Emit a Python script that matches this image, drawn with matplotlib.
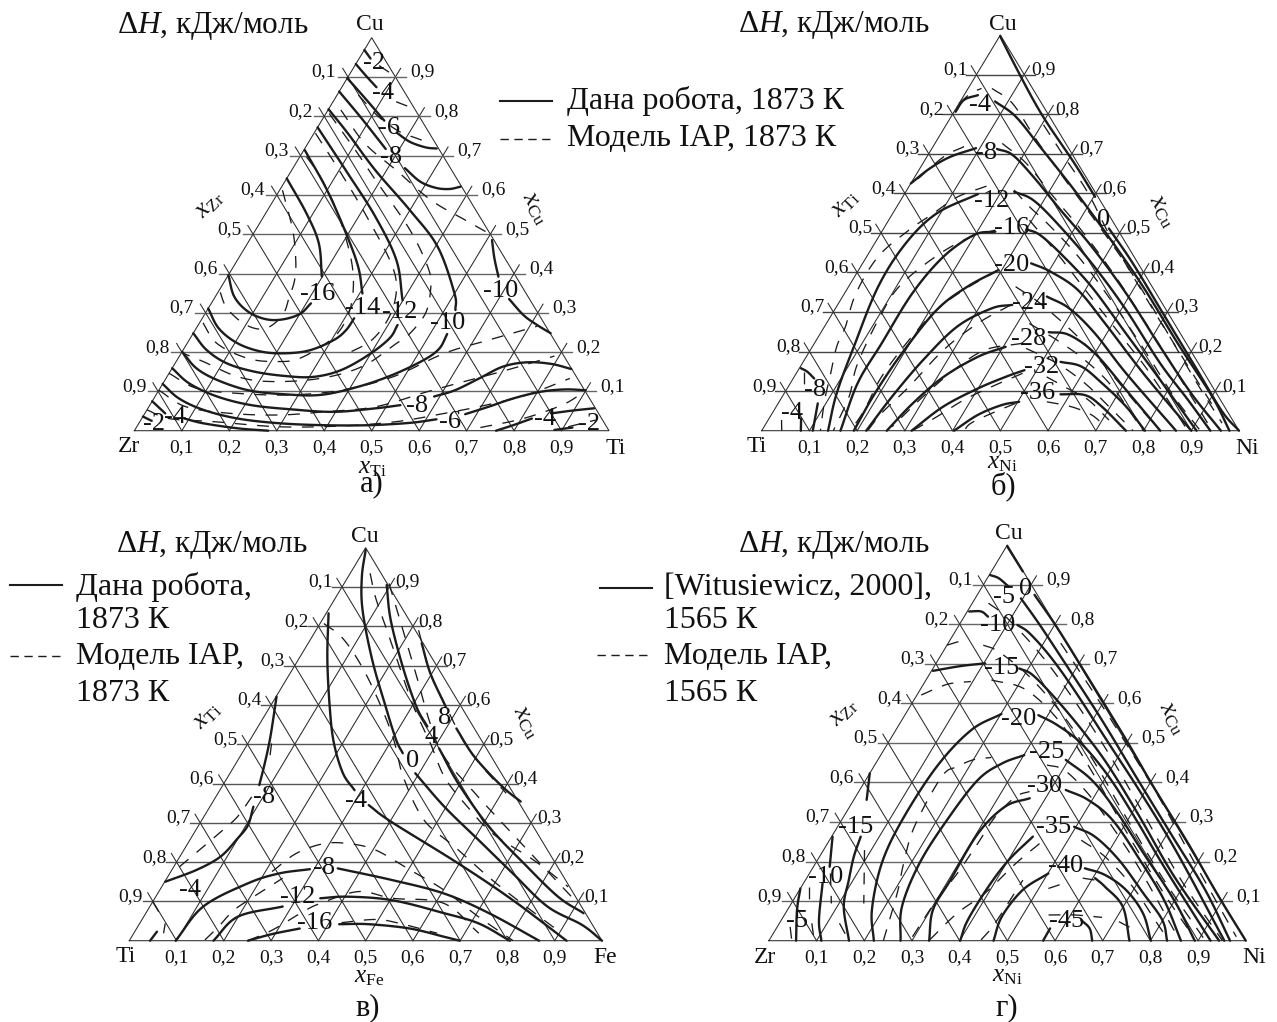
import numpy as np
import matplotlib
matplotlib.use("Agg")
import matplotlib.pyplot as plt

plt.rcParams['font.family'] = ['Liberation Serif', 'DejaVu Serif']
plt.rcParams['mathtext.fontset'] = 'custom'
plt.rcParams['mathtext.rm'] = 'Liberation Serif'
plt.rcParams['mathtext.it'] = 'Liberation Serif:italic'

W, H = 1277, 1022
TICKS_LEFT = ['0,1', '0,2', '0,3', '0,4', '0,5', '0,6', '0,7', '0,8', '0,9']
TICKS_RIGHT = ['0,9', '0,8', '0,7', '0,6', '0,5', '0,4', '0,3', '0,2', '0,1']
TICKS_BOTTOM = TICKS_LEFT

# every curve: (x of right-hand component, x_Cu)
a_solid = [
 [(0,.969),(.024,.947)],
 [(0,.933),(.039,.901),(.073,.874)],
 [(0,.897),(.063,.846),(.132,.789)],
 [(0,.863),(.081,.795),(.171,.717)],
 [(.174,.758),(.213,.735),(.253,.721),(.278,.718)],
 [(0,.818),(.071,.757),(.176,.663),(.300,.561),(.405,.468),(.500,.349),(.523,.307)],
 [(0,.772),(.122,.655),(.235,.545),(.335,.434),(.399,.332)],
 [(.002,.714),(.100,.612),(.195,.502),(.263,.417),(.306,.349)],
 [(0,.642),(.086,.553),(.150,.477),(.199,.392)],
 [(.236,.668),(.285,.634),(.326,.618),(.356,.615),(.377,.621)],
 [(.511,.485),(.539,.439),(.571,.392)],
 [(.622,.335),(.673,.294),(.714,.269),(.753,.248)],
 [(0,.396),(.040,.341),(.088,.303),(.134,.284),(.170,.283),(.200,.297),(.210,.324)],
 [(0,.311),(.048,.260),(.107,.222),(.168,.201),(.221,.197),(.268,.205),(.305,.231),(.318,.256),(.320,.286)],
 [(0,.248),(.050,.205),(.110,.171),(.179,.150),(.250,.139),(.309,.137),(.358,.154),(.397,.193),(.420,.235),(.420,.269)],
 [(0,.201),(.051,.159),(.110,.129),(.188,.103),(.265,.093),(.346,.091),(.416,.112),(.473,.142),(.520,.180),(.538,.209),(.536,.246)],
 [(0,.159),(.056,.120),(.131,.087),(.214,.065),(.307,.054),(.397,.048),(.480,.057),(.528,.065)],
 [(.588,.087),(.624,.103),(.660,.133),(.695,.163),(.740,.174),(.793,.170),(.842,.157)],
 [(0,.119),(.053,.082),(.119,.053),(.202,.031),(.295,.019),(.392,.014),(.486,.014),(.571,.020),(.622,.029)],
 [(.676,.042),(.716,.061),(.757,.082),(.806,.099),(.854,.105),(.899,.103)],
 [(0,.075),(.043,.044)],
 [(.090,.031),(.135,.019),(.215,.006),(.282,0)],
 [(.762,0),(.791,.014),(.822,.031)],
 [(.856,.044),(.896,.051),(.940,.057)],
 [(0,.036),(.024,.025)],
 [(.884,.002),(.919,.008)],
]
a_dashed = [
 [(.051,.929),(.086,.909)],
 [(.133,.837),(.178,.820)],
 [(.045,.854),(.115,.799),(.178,.761),(.223,.744),(.259,.731)],
 [(.027,.816),(.120,.731),(.220,.663),(.331,.587),(.429,.536),(.496,.502)],
 [(.007,.807),(.099,.723),(.189,.638),(.325,.511),(.416,.409),(.445,.358),(.464,.299),(.457,.248),(.441,.222),(.398,.163),(.325,.133),(.228,.125),(.150,.137),(.057,.176),(.004,.197)],
 [(.003,.757),(.108,.655),(.217,.545),(.328,.426),(.373,.358),(.392,.290),(.385,.231),(.352,.197)],
 [(.014,.697),(.069,.646),(.152,.553),(.240,.434),(.286,.349),(.305,.282),(.298,.231),(.256,.184),(.210,.176),(.147,.184),(.063,.222),(0,.282)],
 [(.006,.612),(.078,.511),(.123,.434),(.146,.383),(.156,.341),(.165,.294),(.146,.260),(.101,.269),(.040,.311),(0,.358)],
 [(0,.146),(.077,.108),(.170,.095),(.281,.091),(.384,.103),(.476,.137),(.555,.197),(.632,.231),(.716,.266)],
 [(0,.103),(.078,.061),(.181,.044),(.285,.040),(.375,.048),(.478,.061),(.567,.099),(.622,.121),(.707,.154),(.790,.190)],
 [(0,.053),(.057,.031),(.156,.023),(.300,.010),(.429,.012),(.540,.023),(.631,.044),(.708,.065),(.781,.091),(.851,.133)],
 [(.725,.008),(.804,.031),(.868,.065),(.896,.095)],
 [(.909,.010),(.958,.027)],
]
a_labels = [('-2',374,63),('-4',383,93),('-6',389,128),('-8',391,157),('-16',318,294),('-14',363,308),
            ('-12',400,312),('-10',448,323),('-10',501,291),('-8',417,406),('-6',450,422),('-4',545,419),
            ('-2',589,424),('-2',154,424),('-4',175,417)]

b_solid = [
 [(.001,.997),(.072,.920),(.151,.836),(.214,.773),(.317,.676),(.403,.591)],
 [(.472,.511),(.566,.423),(.697,.292),(.827,.162),(.941,.048),(1,0)],
 [(.073,.832),(.135,.794),(.224,.718),(.351,.608),(.482,.490),(.617,.364),(.761,.221),(.901,.086),(.980,0)],
 [(.137,.712),(.177,.697),(.248,.642),(.347,.558),(.459,.465),(.590,.347),(.729,.212),(.853,.094),(.962,0)],
 [(.227,.604),(.277,.583),(.357,.524),(.480,.423),(.611,.305),(.750,.170),(.854,.078),(.940,0)],
 [(.300,.509),(.335,.495),(.402,.448),(.509,.364),(.640,.246),(.771,.128),(.911,0)],
 [(.353,.423),(.404,.402),(.484,.356),(.584,.271),(.727,.145),(.900,0)],
 [(.428,.339),(.490,.309),(.575,.246),(.691,.145),(.868,0)],
 [(.477,.249),(.523,.242),(.601,.195),(.712,.103),(.835,0)],
 [(.539,.174),(.589,.162),(.653,.120),(.733,.061),(.803,0)],
 [(.580,.092),(.632,.090),(.682,.061),(.763,0)],
 [(.003,.806),(.006,.836),(.029,.848)],
 [(0,.625),(.021,.663),(.049,.692),(.092,.714)],
 [(.139,0),(.110,.094),(.087,.212),(.062,.364),(.065,.473),(.092,.549),(.154,.598)],
 [(.165,0),(.141,.120),(.141,.221),(.142,.347),(.161,.440),(.198,.495),(.238,.503)],
 [(.193,0),(.190,.094),(.196,.195),(.214,.305),(.249,.364),(.293,.406)],
 [(.219,0),(.230,.086),(.249,.179),(.278,.263),(.327,.309),(.366,.318)],
 [(.262,0),(.282,.069),(.313,.136),(.360,.187),(.405,.212)],
 [(.314,0),(.350,.061),(.400,.107),(.443,.136),(.474,.153)],
 [(.403,0),(.433,.040),(.471,.065),(.503,.073)],
 [(.003,.158),(.021,.149),(.044,.132)],
 [(.107,0),(.083,.069)],
 [(.082,0),(.067,.031)],
]
b_dashed = [
 [(0,.827),(.012,.853),(.028,.865)],
 [(.065,.718),(.035,.692),(.004,.625)],
 [(.162,.618),(.115,.591),(.085,.549),(.055,.507),(.024,.440),(.024,.347),(.044,.263),(.051,.212),(.075,.136),(.093,.078),(.123,0)],
 [(.236,.507),(.194,.490),(.150,.448),(.108,.372),(.103,.297),(.116,.170),(.140,.086),(.150,0)],
 [(.293,.406),(.246,.356),(.214,.305),(.194,.229),(.183,.136),(.189,.052),(.186,0)],
 [(.363,.318),(.317,.271),(.279,.204),(.253,.111),(.229,.044),(.222,0)],
 [(.436,.221),(.366,.204),(.326,.153),(.295,.086),(.268,.010)],
 [(.474,.145),(.426,.111),(.385,.078),(.349,.035),(.316,0)],
 [(.497,.069),(.460,.044),(.429,.019),(.424,0)],
 [(.050,.865),(.112,.827),(.208,.735),(.301,.650),(.432,.532),(.568,.406),(.711,.263),(.844,.128),(.955,.019)],
 [(.141,.726),(.216,.676),(.316,.591),(.416,.507),(.547,.389),(.687,.254),(.815,.128),(.944,0)],
 [(.225,.608),(.278,.566),(.347,.516),(.454,.431),(.585,.313),(.709,.195),(.821,.086),(.919,0)],
 [(.295,.532),(.395,.448),(.510,.347),(.626,.246),(.741,.145),(.893,0)],
 [(.350,.364),(.422,.322),(.532,.246),(.639,.162),(.750,.069),(.835,0)],
 [(.425,.271),(.504,.229),(.587,.179),(.679,.111),(.799,0)],
 [(.450,.208),(.534,.170),(.617,.120),(.697,.061),(.778,0)],
 [(.529,.136),(.587,.107),(.645,.078),(.714,.027)],
 [(.561,.073),(.617,.061),(.671,.040),(.715,.010)],
 [(.204,.773),(.287,.693),(.384,.600),(.493,.482),(.626,.347),(.770,.204),(.925,.052)],
 [(.014,.149),(.037,.103)],
 [(.042,0),(.028,.027)],
]
b_labels = [('-4',980,105),('-8',986,153),('-12',992,201),('-16',1012,228),('-20',1012,265),('-24',1030,303),
            ('-28',1029,339),('-32',1042,367),('-36',1038,393),('-8',815,390),('-4',792,413),('0',1104,220)]

c_solid = [
 [(.003,.994),(.029,.926),(.073,.841),(.157,.714),(.245,.595),(.309,.511),(.340,.477)],
 [(.005,.833),(.062,.714),(.131,.587),(.182,.502),(.239,.426),(.285,.383)],
 [(.092,.905),(.145,.816),(.230,.697),(.310,.595),(.358,.545)],
 [(.240,.757),(.297,.680),(.372,.595)],
 [(.422,.540),(.486,.477),(.548,.426),(.606,.383),(.651,.354)],
 [(.411,.489),(.496,.400),(.616,.290),(.736,.197),(.851,.112),(.926,.070)],
 [(.392,.426),(.496,.341),(.611,.256),(.726,.171),(.841,.087),(.938,.040),(1,0)],
 [(.334,.345),(.402,.303),(.597,.197),(.760,.103),(.925,0)],
 [(.349,.184),(.480,.154),(.606,.120),(.726,.070),(.867,0)],
 [(.098,0),(.113,.087),(.178,.146),(.231,.171),(.291,.182)],
 [(.178,0),(.199,.061),(.281,.087)],
 [(.350,.108),(.406,.112),(.505,.103),(.631,.070),(.717,.044),(.805,0)],
 [(.251,0),(.294,.017),(.345,.031)],
 [(.423,.042),(.485,.042),(.578,.031),(.661,.010),(.699,0)],
 [(.001,.621),(.039,.519),(.061,.451),(.077,.396)],
 [(.092,.341),(.104,.294),(.099,.260),(.086,.214),(.052,.180),(.001,.150)],
 [(.044,0),(.047,.023)],
]
c_dashed = [
 [(.042,.935),(.083,.875),(.143,.799),(.223,.697),(.304,.595),(.386,.502),(.458,.417),(.535,.349),(.632,.273),(.753,.205),(.860,.137)],
 [(.008,.807),(.061,.774),(.127,.714),(.206,.629),(.298,.519),(.371,.417),(.470,.307),(.569,.239),(.691,.154),(.810,.078),(.905,.019)],
 [(.095,.909),(.184,.790),(.272,.672),(.360,.553),(.432,.468),(.544,.375),(.640,.299),(.760,.205),(.891,.103)],
 [(.217,.790),(.297,.680),(.380,.587),(.459,.502),(.525,.443),(.610,.375)],
 [(.214,.176),(.242,.222),(.288,.247),(.340,.247),(.405,.231),(.504,.180),(.601,.129),(.708,.061),(.812,0)],
 [(.012,.188),(.033,.231),(.055,.277),(.071,.315),(.076,.366)],
 [(.159,.002),(.171,.036),(.181,.074),(.200,.103),(.245,.159)],
 [(.251,0),(.289,.027),(.331,.074),(.357,.095),(.422,.125),(.503,.108),(.618,.095),(.730,.019)],
 [(.426,.046),(.494,.054),(.550,.044),(.642,.019)],
 [(0,.099),(.025,.074)],
 [(.063,.019),(.054,.044)],
 [(.050,.502),(.070,.451)],
]
c_labels = [('8',445,718),('4',431,737),('0',413,761),('-4',356,801),('-8',264,797),('-4',190,890),
            ('-8',324,868),('-12',298,897),('-16',315,923)]

d_solid = [
 [(.001,.997),(.066,.933)],
 [(.120,.874),(.211,.789),(.352,.650),(.496,.507),(.612,.389),(.756,.246),(.888,.111),(1,0)],
 [(.002,.924),(.024,.916),(.055,.895)],
 [(.096,.865),(.169,.798),(.279,.693),(.419,.558),(.563,.414),(.707,.271),(.851,.128),(.967,0)],
 [(.122,.798),(.158,.777),(.231,.718),(.323,.634),(.463,.499),(.603,.364),(.746,.221),(.955,0)],
 [(.181,.688),(.218,.671),(.300,.608),(.400,.524),(.493,.440),(.621,.313),(.769,.162),(.944,0)],
 [(.280,.570),(.332,.545),(.405,.499),(.506,.414),(.618,.305),(.735,.187),(.926,0)],
 [(.394,.457),(.474,.406),(.562,.330),(.675,.221),(.798,.103),(.893,0)],
 [(.432,.381),(.491,.356),(.568,.305),(.676,.204),(.777,.103),(.864,0)],
 [(.496,.288),(.552,.263),(.632,.204),(.725,.120),(.799,.052),(.835,0)],
 [(.571,.183),(.622,.166),(.685,.128),(.750,.069),(.801,0)],
 [(.605,.158),(.637,.136),(.699,.086),(.756,0)],
 [(.575,0),(.574,.031)],
 [(.629,.052),(.657,.031),(.678,0)],
 [(.110,0),(.079,.052),(.040,.145)],
 [(.168,0),(.114,.086),(.091,.153),(.072,.212),(.061,.263)],
 [(.220,0),(.177,.078),(.139,.195),(.127,.305),(.132,.440),(.158,.532),(.201,.573)],
 [(.276,0),(.236,.086),(.218,.195),(.221,.305),(.235,.406),(.265,.448),(.301,.469)],
 [(.336,0),(.305,.078),(.304,.153),(.303,.271),(.326,.339),(.367,.360)],
 [(.401,0),(.391,.052),(.392,.136),(.401,.204),(.422,.263)],
 [(.471,0),(.458,.061),(.468,.128),(.501,.170)],
 [(.003,.682),(.055,.694),(.103,.701)],
 [(.004,.832),(.029,.832),(.050,.819)],
 [(0,.423),(.027,.356)],
 [(.002,.263),(.034,.187)],
 [(0,.132),(.020,.078),(.057,0)],
]
d_dashed = [
 [(.236,.752),(.360,.634),(.499,.499),(.643,.356),(.796,.195),(.975,.010)],
 [(.034,.853),(.087,.819),(.205,.726),(.336,.608),(.476,.473),(.624,.322),(.788,.153),(.951,0)],
 [(.076,.747),(.117,.730),(.213,.667),(.336,.566),(.460,.448),(.592,.313),(.752,.153),(.915,0)],
 [(.137,.659),(.222,.634),(.338,.549),(.477,.414),(.624,.263),(.768,.120),(.885,.010)],
 [(.009,.621),(.033,.638),(.056,.650),(.096,.655)],
 [(0,.747),(.029,.760)],
 [(.240,0),(.209,.120),(.185,.195),(.161,.288),(.155,.414),(.175,.440),(.202,.458),(.235,.463)],
 [(.296,.010),(.300,.103),(.310,.170),(.315,.246),(.318,.313),(.336,.364),(.358,.377)],
 [(.336,.002),(.360,.069),(.393,.120),(.420,.195),(.445,.246)],
 [(.444,.002),(.452,.044),(.456,.153)],
 [(.520,.132),(.546,.145)],
 [(.554,.065),(.608,.065),(.669,.059)],
 [(.579,.158),(.615,.152)],
 [(.710,.048),(.754,.027)],
 [(.528,.254),(.599,.212),(.695,.136),(.792,.044),(.839,0)],
 [(.361,.444),(.404,.431),(.483,.372),(.576,.288),(.689,.179),(.852,.010)],
 [(.016,.136),(.037,.094)],
 [(.044,.170),(.084,.094)],
 [(.126,.044),(.168,0)],
 [(.086,.229),(.152,.094)],
 [(.068,.044),(.095,0)],
 [(.027,.035),(.048,0)],
]
d_labels = [('0',1026,589),('-5',1004,597),('-10',998,625),('-15',1002,668),('-20',1019,719),('-25',1047,752),
            ('-30',1045,786),('-35',1054,827),('-40',1066,866),('-45',1067,921),('-15',856,827),('-10',826,877),('-5',797,921)]


def smooth(points, n=14):
    p = np.array(points, float)
    p = np.column_stack([p[:, 0] + p[:, 1] / 2, p[:, 1]])
    if len(p) < 3:
        return p[:, 0], p[:, 1]
    q = np.vstack([2 * p[0] - p[1], p, 2 * p[-1] - p[-2]])
    out = []
    for i in range(1, len(q) - 2):
        t = np.linspace(0, 1, n, endpoint=False)[:, None]
        out.append(0.5 * (2 * q[i] + (q[i + 1] - q[i - 1]) * t +
                   (2 * q[i - 1] - 5 * q[i] + 4 * q[i + 1] - q[i + 2]) * t ** 2 +
                   (3 * q[i] - q[i - 1] - 3 * q[i + 1] + q[i + 2]) * t ** 3))
    out.append(p[-1:])
    o = np.vstack(out)
    return o[:, 0], o[:, 1]


fig = plt.figure(figsize=(W / 100, H / 100), dpi=100, facecolor='white')


def T(x, y, s, size, **kw):
    kw.setdefault('ha', 'center')
    kw.setdefault('va', 'center')
    fig.text(x / W, 1 - y / H, s, fontsize=size, color='#111111', **kw)


def panel(x0, x1, ytop, ybase, solid, dashed, labels, off_l, off_r, names, hcolor):
    ax = fig.add_axes([x0 / W, 1 - ybase / H, (x1 - x0) / W, (ybase - ytop) / H])
    ax.set_xlim(0, 1)
    ax.set_ylim(0, 1)
    ax.axis('off')
    e = 0.022
    kw = dict(color='#2a2a2a', lw=0.75, clip_on=False, zorder=1)
    ax.plot([0, 1, .5, 0], [0, 0, 1, 0], **kw)
    for k in range(1, 10):
        v = k / 10
        ax.plot([v / 2 - e, 1 - v / 2 + e], [v, v], color=hcolor, lw=1.0, clip_on=False, zorder=1)
        ax.plot([v, v + (1 - v) / 2 + e / 2], [0, 1 - v + e], **kw)
        ax.plot([v, v / 2 - e / 2], [0, v + e], **kw)
    for cur in solid:
        ax.plot(*smooth(cur), color='#1c1c1c', lw=1.7, clip_on=False, zorder=3, solid_capstyle='round')
    for cur in dashed:
        ax.plot(*smooth(cur), color='#1c1c1c', lw=0.95, clip_on=False, zorder=2, dashes=(9, 8))
    wd = x1 - x0
    ht = ybase - ytop
    for k in range(1, 10):
        v = 1 - k / 10
        y = ybase - v * ht - 5
        T(x0 + v / 2 * wd - off_l, y, TICKS_LEFT[k - 1], 14)
        T(x0 + (1 - v / 2) * wd + off_r, y, TICKS_RIGHT[k - 1], 14)
        T(x0 + k / 10 * wd, ybase + 17, TICKS_BOTTOM[k - 1], 14)
    for s, x, y in labels:
        T(x, y, s, 19)
    for s, x, y, rot, fs in names:
        T(x, y, s, fs, rotation=rot)


panel(134.4, 609, 37.7, 430.7, a_solid, a_dashed, a_labels, 24, 27, [
    ('Cu', 370, 25, 0, 17), ('Zr', 129, 447, 0, 17), ('Ti', 616, 448, 0, 17),
    (r'$x_{\mathrm{Zr}}$', 210, 205, 45, 18), (r'$x_{\mathrm{Cu}}$', 535, 208, -60, 18),
    (r'$x_{\mathrm{Ti}}$', 372, 468, 0, 18)], '#666666')
panel(761.7, 1239, 35, 430.7, b_solid, b_dashed, b_labels, 21, 19, [
    ('Cu', 1003, 24, 0, 17), ('Ti', 757, 446, 0, 17), ('Ni', 1247, 448, 0, 17),
    (r'$x_{\mathrm{Ti}}$', 845, 204, 45, 18), (r'$x_{\mathrm{Cu}}$', 1162, 211, -60, 18),
    (r'$x_{\mathrm{Ni}}$', 1002, 463, 0, 18)], '#444444')
panel(129.3, 602, 547.7, 940.7, c_solid, c_dashed, c_labels, 22, 18, [
    ('Cu', 365, 536, 0, 17), ('Ti', 126, 956, 0, 17), ('Fe', 605, 957, 0, 17),
    (r'$x_{\mathrm{Ti}}$', 207, 716, 45, 18), (r'$x_{\mathrm{Cu}}$', 526, 722, -60, 18),
    (r'$x_{\mathrm{Fe}}$', 369, 977, 0, 18)], '#555555')
panel(768.9, 1245.8, 545, 940.7, d_solid, d_dashed, d_labels, 23, 27, [
    ('Cu', 1009, 533, 0, 17), ('Zr', 765, 957, 0, 17), ('Ni', 1254, 957, 0, 17),
    (r'$x_{\mathrm{Zr}}$', 844, 713, 45, 18), (r'$x_{\mathrm{Cu}}$', 1172, 718, -60, 18),
    (r'$x_{\mathrm{Ni}}$', 1007, 976, 0, 18)], '#666666')

title = 'Δ$H$, кДж/моль'
for x, y in [(213, 26), (834, 25), (212, 545), (834, 545)]:
    T(x, y, title, 22.5)
for s, x, y in [('а)', 372, 484), ('б)', 1003, 486), ('в)', 368, 1008), ('г)', 1007, 1008)]:
    T(x, y, s, 22)

bg = fig.add_axes([0, 0, 1, 1], zorder=-1)
bg.set_xlim(0, W)
bg.set_ylim(H, 0)
bg.axis('off')
for x0, x1, y in [(500, 552, 101), (10, 62, 585), (600, 652, 588)]:
    bg.plot([x0, x1], [y, y], color='#1c1c1c', lw=1.5)
for x0, x1, y in [(500, 552, 139), (10, 62, 656), (597, 650, 655)]:
    bg.plot([x0, x1], [y, y], color='#1c1c1c', lw=1.0, dashes=(6, 4))
for s, x, y in [('Дана робота, 1873 К', 567, 101), ('Модель IAP, 1873 К', 567, 139),
                ('Дана робота,', 76, 587), ('1873 К', 76, 620), ('Модель IAP,', 76, 656), ('1873 К', 76, 693),
                ('[Witusiewicz, 2000],', 664, 587), ('1565 К', 664, 620), ('Модель IAP,', 664, 656), ('1565 К', 664, 693)]:
    T(x, y, s, 23, ha='left')

fig.savefig('out.png', dpi=100, facecolor='white')
